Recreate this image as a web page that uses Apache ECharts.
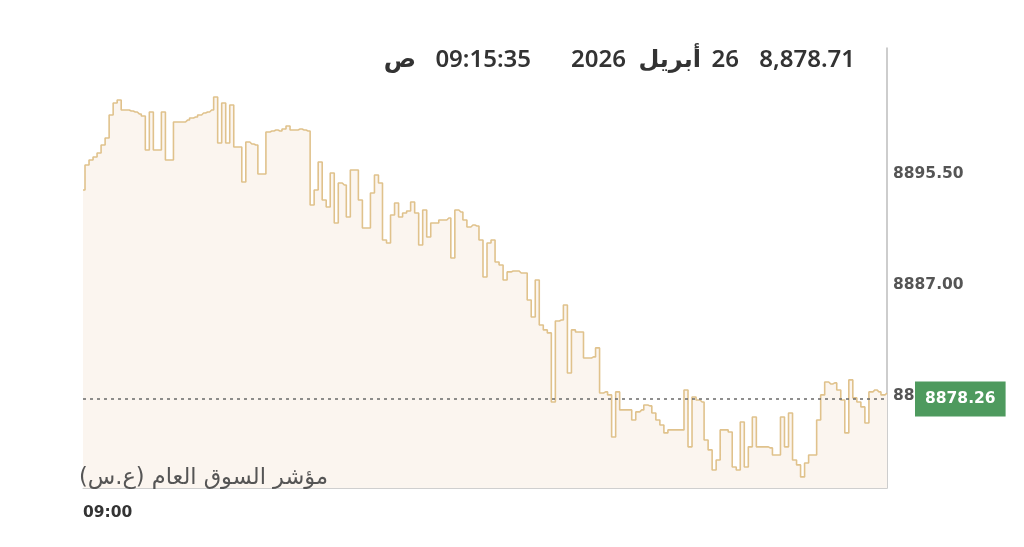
<!DOCTYPE html>
<html>
<head>
<meta charset="utf-8">
<script src="https://cdn.jsdelivr.net/npm/echarts@6/dist/echarts.min.js"></script>
<style>
html,body{margin:0;padding:0;background:#fff;}
#c{width:1024px;height:547px;}
</style>
</head>
<body>
<div id="c"></div>
<script>
// ---- data ----
const indexValues = [
8894.27,8896.19,8896.57,8896.80,8897.11,8897.72,8898.26,8900.02,8900.94,8901.17,
8900.40,8900.40,8900.32,8900.25,8900.10,8899.94,8897.34,8900.25,8897.34,8897.34,
8900.25,8896.57,8896.57,8899.48,8899.48,8899.48,8899.63,8899.79,8899.86,8900.02,
8900.17,8900.25,8900.40,8901.40,8897.87,8900.94,8897.87,8900.78,8897.57,8897.57,
8894.89,8897.95,8897.80,8897.72,8895.50,8895.50,8898.72,8898.79,8898.87,8898.79,
8898.95,8899.18,8898.87,8898.87,8898.95,8898.87,8898.79,8893.13,8894.27,8896.42,
8893.51,8892.97,8895.58,8891.75,8894.81,8894.66,8892.21,8895.81,8895.81,8893.51,
8891.36,8891.36,8894.05,8895.42,8894.81,8890.45,8890.22,8892.36,8893.28,8892.21,
8892.51,8892.67,8893.36,8892.51,8890.06,8892.74,8890.68,8891.75,8891.75,8891.98,
8891.98,8892.13,8889.07,8892.74,8892.59,8891.98,8891.44,8891.59,8891.52,8890.45,
8887.61,8890.22,8890.45,8888.76,8888.53,8887.38,8888.00,8888.07,8888.07,8887.92,
8887.92,8885.85,8884.55,8887.38,8883.94,8883.56,8883.33,8878.04,8884.24,8884.32,
8885.47,8880.26,8883.56,8883.40,8883.40,8881.41,8881.41,8881.49,8882.18,8878.73,
8878.81,8878.58,8875.36,8878.81,8877.43,8877.43,8877.43,8876.66,8877.28,8877.43,
8877.81,8877.74,8877.20,8876.66,8876.28,8875.67,8875.90,8875.90,8875.90,8875.90,
8878.96,8874.60,8878.42,8878.19,8878.04,8875.13,8874.37,8872.83,8873.60,8875.90,
8875.90,8875.74,8873.06,8872.83,8876.51,8873.06,8874.60,8876.89,8874.60,8874.60,
8874.60,8874.52,8873.98,8873.98,8876.89,8874.60,8877.20,8873.60,8873.22,8872.30,
8873.37,8873.98,8873.98,8876.66,8878.58,8879.57,8879.42,8879.50,8878.96,8878.19,
8875.67,8879.73,8878.35,8878.04,8877.66,8876.43,8878.81,8878.96,8878.81,8878.58,
8878.71
];
const previousClose = 8878.26;
const yTickValues = [8878.50, 8887.00, 8895.50];
const xTickLabels = ['09:00'];
const startTime = '09:00:00';
const endTime = '09:15:35';
const headerTokens = ['ص', '09:15:35', '2026', 'أبريل', '26', '8,878.71'];
const indexName = '\u200Fمؤشر السوق العام (ع.س)\u200F';

// time categories spanning the session shown
function toSec(t){const p=t.split(':').map(Number);return p[0]*3600+p[1]*60+p[2];}
function toStr(s){const h=Math.floor(s/3600),m=Math.floor(s%3600/60),x=Math.round(s%60);
  return [h,m,x].map(v=>String(v).padStart(2,'0')).join(':');}
const s0=toSec(startTime), s1=toSec(endTime);
const categories = indexValues.map((v,i)=>toStr(s0+(s1-s0)*i/(indexValues.length-1)));

const chart = echarts.init(document.getElementById('c'), null, {renderer:'canvas'});
const headerX = [416, 531, 626, 701, 739, 855];
chart.setOption({
  animation:false,
  backgroundColor:'#ffffff',
  grid:{left:83, right:137, top:48, bottom:59},
  xAxis:{
    type:'category', data:categories, boundaryGap:false,
    axisLine:{show:true, lineStyle:{color:'#cfcfcf', width:1}},
    axisTick:{show:false},
    axisLabel:{
      interval:function(i){return i===0;},
      formatter:function(v,i){return i===0?xTickLabels[0]:'';},
      align:'left', margin:17,
      fontFamily:'DejaVu Sans', fontWeight:'bold', fontSize:15.5, color:'#333'
    },
    splitLine:{show:false}
  },
  yAxis:{
    type:'value', position:'right', min:8871.45, max:8905.15,
    axisLine:{show:true, lineStyle:{color:'#bdbdbd', width:1.5}},
    axisTick:{show:false},
    splitLine:{show:false},
    axisLabel:{
      customValues:yTickValues,
      formatter:function(v){return Number(v).toFixed(2);},
      margin:6, fontFamily:'DejaVu Sans', fontWeight:'bold', fontSize:15.5, color:'#555'
    }
  },
  graphic:[
    ...headerTokens.map((t,i)=>({
      type:'text', x:headerX[i], y:60, z:10,
      style:{text:t, textAlign:'right', textVerticalAlign:'middle',
        fontFamily:'Noto Sans, DejaVu Sans', fontSize:24, fontWeight:600, fill:'#333'}
    })),
    {type:'text', x:328, y:478, z:10,
      style:{text:indexName, textAlign:'right', textVerticalAlign:'middle',
        fontFamily:'DejaVu Sans', fontSize:22.5, fill:'#555'}}
  ],
  series:[{
    type:'line', data:indexValues, step:'middle',
    showSymbol:false, symbol:'none', sampling:null,
    lineStyle:{color:'#e0c28c', width:1.6},
    areaStyle:{color:'#fbf5ef', opacity:1},
    markLine:{
      silent:true, symbol:'none',
      lineStyle:{color:'#6a6a6a', type:[3,4], width:1.6},
      label:{
        position:'end', distance:28,
        formatter:function(){return previousClose.toFixed(2);},
        backgroundColor:'#4e9a5e', color:'#fff', padding:[10,10,9,10],
        fontFamily:'DejaVu Sans', fontWeight:'bold', fontSize:15.5
      },
      data:[{yAxis:previousClose}]
    }
  }]
});
</script>
</body>
</html>
